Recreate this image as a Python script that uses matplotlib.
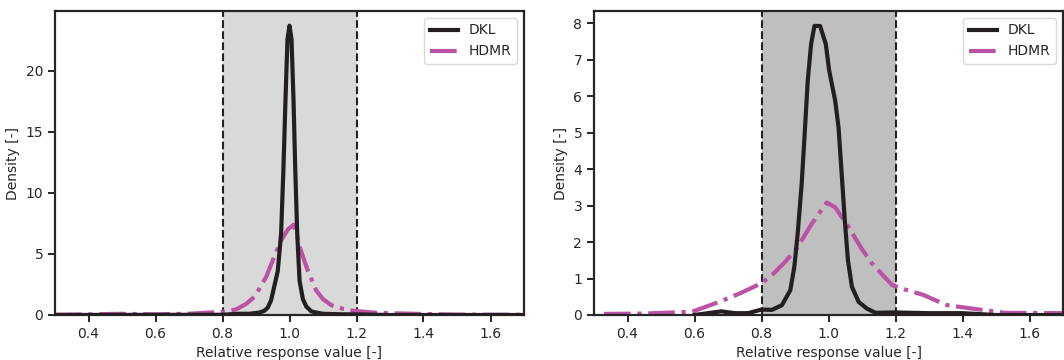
import matplotlib
matplotlib.use('Agg')
import matplotlib.pyplot as plt

# density curves (x = relative response value)
dkl_x_a = [0.30, 0.80, 0.85, 0.88, 0.91, 0.925, 0.935, 0.945, 0.955, 0.965, 0.975,
           0.982, 0.988, 0.994, 1.000, 1.006, 1.012, 1.017, 1.023, 1.030, 1.040,
           1.050, 1.065, 1.080, 1.100, 1.150, 1.200, 1.300, 1.700]
dkl_y_a = [0.0, 0.02, 0.1, 0.1, 0.2, 0.35, 0.6, 1.2, 2.4, 3.6, 6.7,
           12.1, 17.6, 22.6, 23.7, 22.6, 17.6, 12.1, 6.7, 2.8, 1.3,
           0.7, 0.3, 0.2, 0.1, 0.06, 0.05, 0.0, 0.0]
hdmr_x_a = [0.30, 0.40, 0.50, 0.60, 0.70, 0.76, 0.80, 0.84, 0.87, 0.896, 0.93,
            0.955, 0.975, 0.995, 1.012, 1.022, 1.030, 1.055, 1.080, 1.100, 1.125,
            1.160, 1.190, 1.250, 1.300, 1.400, 1.500, 1.700]
hdmr_y_a = [0.02, 0.05, 0.1, 0.05, 0.1, 0.2, 0.25, 0.45, 0.9, 1.5, 3.1,
            4.8, 6.1, 7.0, 7.4, 6.6, 5.6, 3.6, 2.0, 1.3, 0.8,
            0.5, 0.35, 0.2, 0.15, 0.08, 0.03, 0.02]

dkl_x_b = [0.60, 0.64, 0.68, 0.72, 0.76, 0.80, 0.831, 0.861, 0.886, 0.898, 0.908,
           0.920, 0.930, 0.938, 0.948, 0.958, 0.975, 0.992, 1.002, 1.020, 1.030,
           1.038, 1.048, 1.058, 1.070, 1.090, 1.114, 1.140, 1.200, 1.300, 1.400,
           1.500, 1.700]
dkl_y_b = [0.0, 0.05, 0.1, 0.05, 0.05, 0.15, 0.14, 0.27, 0.68, 1.32, 2.23,
           3.6, 5.14, 6.42, 7.42, 7.92, 7.92, 7.42, 6.7, 5.87, 5.14,
           4.05, 2.68, 1.5, 0.77, 0.36, 0.18, 0.06, 0.07, 0.05, 0.05,
           0.0, 0.0]
hdmr_x_b = [0.33, 0.45, 0.593, 0.674, 0.735, 0.80, 0.831, 0.87, 0.905, 0.95,
            0.995, 1.02, 1.06, 1.10, 1.13, 1.19, 1.22, 1.283, 1.33, 1.354,
            1.425, 1.527, 1.70]
hdmr_y_b = [0.03, 0.04, 0.09, 0.36, 0.59, 0.87, 1.09, 1.45, 1.82, 2.5,
            3.08, 2.95, 2.41, 1.8, 1.41, 0.82, 0.72, 0.55, 0.36, 0.27,
            0.18, 0.06, 0.05]

band = (0.8, 1.2)
band_colors = ['#d8d9d8', '#bfbfbf']

plt.rcParams['font.family'] = ['DejaVu Sans']
plt.rcParams['font.size'] = 10
plt.rcParams['axes.linewidth'] = 1.6
plt.rcParams['axes.edgecolor'] = '#262626'
plt.rcParams['xtick.color'] = '#262626'
plt.rcParams['ytick.color'] = '#262626'
plt.rcParams['text.color'] = '#262626'
plt.rcParams['axes.labelcolor'] = '#262626'
plt.rcParams['xtick.major.width'] = 1.4
plt.rcParams['ytick.major.width'] = 1.4
plt.rcParams['xtick.major.size'] = 5
plt.rcParams['ytick.major.size'] = 5

fig = plt.figure(figsize=(10.64, 3.6), dpi=100)
ax1 = fig.add_axes([55 / 1064, 45 / 360, 469 / 1064, 304 / 360])
ax2 = fig.add_axes([594 / 1064, 45 / 360, 469 / 1064, 304 / 360])

panels = [
    (ax1, dkl_x_a, dkl_y_a, hdmr_x_a, hdmr_y_a, band_colors[0], 24.9, [0, 5, 10, 15, 20]),
    (ax2, dkl_x_b, dkl_y_b, hdmr_x_b, hdmr_y_b, band_colors[1], 8.33, list(range(9))),
]

for ax, dx, dy, hx, hy, shade, ytop, yticks in panels:
    ax.axvspan(band[0], band[1], color=shade, lw=0, zorder=0)
    ax.axvline(band[0], color='#222222', ls='--', lw=1.5, zorder=1)
    ax.axvline(band[1], color='#222222', ls='--', lw=1.5, zorder=1)
    ax.plot(dx, dy, color='#231f20', lw=3, label='DKL', zorder=3)
    ax.plot(hx, hy, color='#bb52a3', lw=3, ls='-.', label='HDMR', zorder=2)
    ax.set_xlim(0.3, 1.7)
    ax.set_ylim(0, ytop)
    ax.set_xticks([0.4, 0.6, 0.8, 1.0, 1.2, 1.4, 1.6])
    ax.set_yticks(yticks)
    ax.set_xlabel('Relative response value [-]')
    ax.set_ylabel('Density [-]')
    ax.legend(loc='upper right', fancybox=True, framealpha=0.8, edgecolor='#d0d0d0')

fig.savefig('out.png', dpi=100)
